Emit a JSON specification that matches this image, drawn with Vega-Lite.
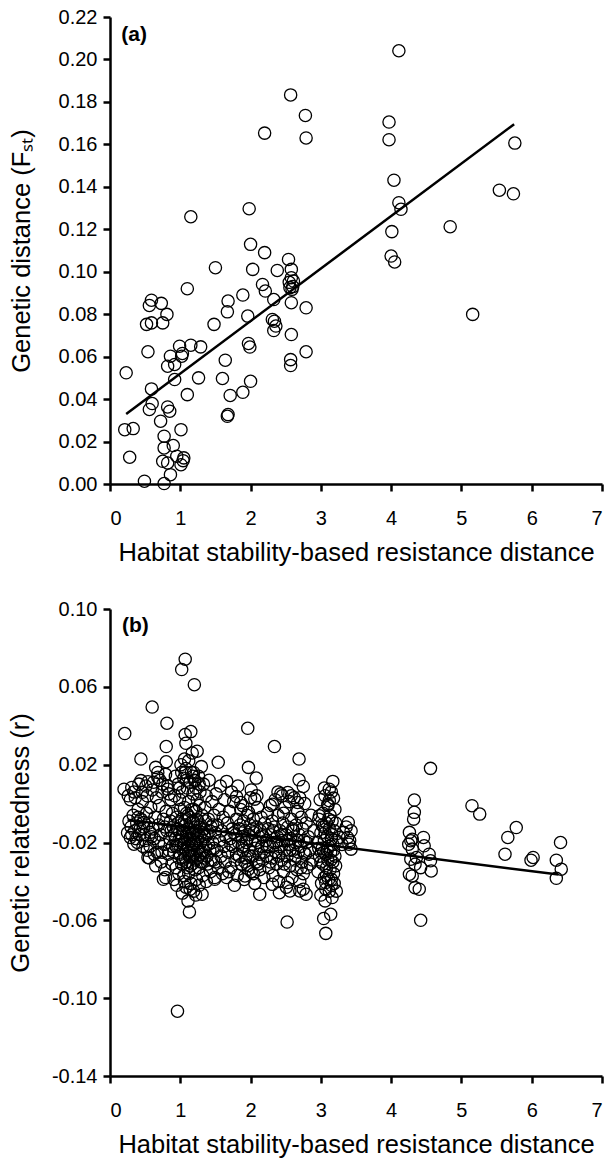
{
  "$schema": "https://vega.github.io/schema/vega-lite/v6.json",
  "background": "white",
  "padding": {"left": 8, "top": 7, "right": 5, "bottom": 5},
  "spacing": 33,
  "config": {
    "font": "Liberation Sans",
    "view": {"stroke": null},
    "axis": {"grid": false, "domainColor": "black", "domainWidth": 2.5, "tickColor": "black", "tickWidth": 2.5, "tickSize": 7, "labelFontSize": 20, "labelColor": "black", "titleFontSize": 25.5, "titleFontWeight": "normal", "titleColor": "black", "labelFont": "Liberation Sans", "titleFont": "Liberation Sans"},
    "axisX": {"labelPadding": 17, "titlePadding": 12},
    "axisY": {"labelPadding": 6}
  },
  "datasets": {
    "a": [
      {"x":0.23,"y":0.0524},{"x":0.21,"y":0.0256},{"x":0.33,"y":0.0261},{"x":0.28,"y":0.0126},{"x":0.49,"y":0.0013},
      {"x":0.59,"y":0.0866},{"x":0.56,"y":0.0841},{"x":0.73,"y":0.0851},{"x":0.81,"y":0.0799},{"x":0.52,"y":0.0752},
      {"x":0.59,"y":0.0759},{"x":0.75,"y":0.0759},{"x":0.54,"y":0.0623},{"x":0.59,"y":0.0448},{"x":0.60,"y":0.0379},
      {"x":0.56,"y":0.0351},{"x":0.82,"y":0.0363},{"x":0.85,"y":0.0343},{"x":0.72,"y":0.0296},{"x":0.77,"y":0.0225},
      {"x":0.77,"y":0.0170},{"x":0.90,"y":0.0181},{"x":0.75,"y":0.0107},{"x":0.82,"y":0.0099},{"x":0.86,"y":0.0044},
      {"x":0.77,"y":0.0002},{"x":0.95,"y":0.0131},{"x":1.05,"y":0.0123},{"x":1.01,"y":0.0091},{"x":1.04,"y":0.0110},
      {"x":1.01,"y":0.0256},{"x":0.82,"y":0.0555},{"x":0.92,"y":0.0563},{"x":0.86,"y":0.0602},{"x":0.92,"y":0.0492},
      {"x":0.99,"y":0.0649},{"x":1.03,"y":0.0615},{"x":1.02,"y":0.0602},{"x":1.15,"y":0.0654},{"x":1.29,"y":0.0646},
      {"x":1.10,"y":0.0421},{"x":1.26,"y":0.0500},{"x":1.10,"y":0.0920},{"x":1.15,"y":0.1259},{"x":1.50,"y":0.1019},
      {"x":1.48,"y":0.0752},{"x":1.60,"y":0.0497},{"x":1.64,"y":0.0583},{"x":1.67,"y":0.0811},{"x":1.68,"y":0.0862},
      {"x":1.71,"y":0.0417},{"x":1.67,"y":0.0319},{"x":1.68,"y":0.0327},{"x":1.89,"y":0.0432},{"x":1.89,"y":0.0890},
      {"x":1.96,"y":0.0791},{"x":1.97,"y":0.0662},{"x":1.99,"y":0.0645},{"x":2.00,"y":0.0484},{"x":2.03,"y":0.1011},
      {"x":2.00,"y":0.1129},{"x":1.98,"y":0.1297},{"x":2.20,"y":0.1090},{"x":2.17,"y":0.0940},{"x":2.21,"y":0.0909},
      {"x":2.33,"y":0.0869},{"x":2.38,"y":0.1006},{"x":2.31,"y":0.0775},{"x":2.34,"y":0.0767},{"x":2.36,"y":0.0744},
      {"x":2.33,"y":0.0723},{"x":2.54,"y":0.1058},{"x":2.58,"y":0.1011},{"x":2.58,"y":0.0972},{"x":2.61,"y":0.0956},
      {"x":2.56,"y":0.0925},{"x":2.59,"y":0.0917},{"x":2.55,"y":0.0950},{"x":2.60,"y":0.0930},{"x":2.58,"y":0.0854},
      {"x":2.58,"y":0.0704},{"x":2.57,"y":0.0586},{"x":2.57,"y":0.0558},{"x":2.79,"y":0.0830},{"x":2.79,"y":0.0623},
      {"x":4.01,"y":0.1189},{"x":4.00,"y":0.1074},{"x":4.05,"y":0.1046},{"x":4.84,"y":0.1212},{"x":5.16,"y":0.0799},
      {"x":4.14,"y":0.1294},{"x":4.11,"y":0.1325},{"x":2.20,"y":0.1653},{"x":2.57,"y":0.1833},{"x":2.78,"y":0.1736},
      {"x":2.79,"y":0.1630},{"x":4.11,"y":0.2041},{"x":3.97,"y":0.1705},{"x":3.97,"y":0.1622},{"x":4.04,"y":0.1431},
      {"x":5.54,"y":0.1384},{"x":5.74,"y":0.1367},{"x":5.76,"y":0.1606}
    ],
    "aline": [{"x":0.23,"y":0.0330},{"x":5.75,"y":0.1695}],
    "bline": [{"x":0.25,"y":-0.0083},{"x":6.38,"y":-0.0365}],
    "b": [
      {"x":0.21,"y":0.036},{"x":0.60,"y":0.0496},{"x":0.81,"y":0.0413},{"x":1.02,"y":0.0689},{"x":1.07,"y":0.0742},
      {"x":1.20,"y":0.0611},{"x":0.80,"y":0.0293},{"x":1.07,"y":0.0355},{"x":1.15,"y":0.037},{"x":1.08,"y":0.031},
      {"x":1.24,"y":0.0269},{"x":1.06,"y":0.0229},{"x":0.80,"y":0.0215},{"x":0.44,"y":0.0229},{"x":0.65,"y":0.0186},
      {"x":1.54,"y":0.0212},{"x":1.96,"y":0.0387},{"x":1.97,"y":0.0186},{"x":2.08,"y":0.0131},{"x":2.34,"y":0.0293},
      {"x":2.69,"y":0.0229},{"x":2.69,"y":0.0122},{"x":2.75,"y":0.0088},{"x":3.17,"y":0.0114},{"x":3.12,"y":0.0074},
      {"x":3.18,"y":0.0028},{"x":4.56,"y":0.0181},{"x":4.33,"y":0.0018},{"x":1.66,"y":0.0114},{"x":1.80,"y":0.0036},
      {"x":0.20,"y":0.0074},{"x":0.31,"y":0.0083},{"x":0.44,"y":0.0118},{"x":0.54,"y":0.0112},{"x":0.68,"y":0.0135},
      {"x":1.07,"y":0.016},{"x":1.02,"y":0.016},{"x":1.19,"y":0.016},{"x":1.21,"y":0.0118},{"x":0.82,"y":0.0074},
      {"x":2.31,"y":-0.0003},{"x":2.45,"y":0.004},{"x":2.53,"y":0.0057},{"x":1.86,"y":0.0006},{"x":2.06,"y":0.0023},
      {"x":3.10,"y":-0.0003},{"x":0.46,"y":0.0058},{"x":0.29,"y":-0.0174},{"x":0.34,"y":-0.0209},{"x":0.54,"y":-0.0277},
      {"x":0.40,"y":-0.0071},{"x":0.48,"y":-0.0097},{"x":0.57,"y":-0.0148},{"x":0.76,"y":-0.0389},{"x":0.79,"y":-0.038},
      {"x":1.66,"y":-0.038},{"x":1.49,"y":-0.0389},{"x":1.92,"y":-0.0372},{"x":1.97,"y":-0.0337},{"x":2.31,"y":-0.0415},
      {"x":2.41,"y":-0.0458},{"x":2.53,"y":-0.0406},{"x":2.56,"y":-0.0449},{"x":2.70,"y":-0.0449},{"x":2.79,"y":-0.0466},
      {"x":2.75,"y":-0.044},{"x":2.13,"y":-0.0466},{"x":3.07,"y":-0.0406},{"x":3.15,"y":-0.0389},{"x":1.89,"y":-0.0011},
      {"x":1.97,"y":-0.0045},{"x":2.67,"y":0.0006},{"x":2.98,"y":-0.0063},{"x":3.12,"y":0.0015},
      {"x":3.39,"y":-0.0097},{"x":3.43,"y":-0.014},{"x":3.38,"y":-0.0174},{"x":3.40,"y":-0.0209},{"x":3.43,"y":-0.0234},
      {"x":3.32,"y":-0.0148},{"x":3.26,"y":-0.0174},{"x":3.36,"y":-0.012},{"x":3.41,"y":-0.019},{"x":3.30,"y":-0.021},
      {"x":4.33,"y":-0.0045},{"x":4.32,"y":-0.008},{"x":4.26,"y":-0.0148},{"x":4.28,"y":-0.0191},{"x":4.30,"y":-0.0234},
      {"x":4.28,"y":-0.0286},{"x":4.26,"y":-0.0363},{"x":4.30,"y":-0.0372},{"x":4.34,"y":-0.0432},{"x":4.40,"y":-0.044},
      {"x":4.42,"y":-0.060},{"x":4.46,"y":-0.0174},{"x":4.47,"y":-0.0217},{"x":4.54,"y":-0.026},{"x":4.56,"y":-0.0294},
      {"x":4.57,"y":-0.0346},{"x":4.42,"y":-0.0329},{"x":4.36,"y":-0.0277},{"x":4.30,"y":-0.0183},{"x":4.25,"y":-0.0209},
      {"x":4.34,"y":-0.0312},{"x":5.15,"y":-0.0011},{"x":5.26,"y":-0.0054},{"x":5.62,"y":-0.026},{"x":5.66,"y":-0.0174},
      {"x":5.78,"y":-0.0123},{"x":5.99,"y":-0.0291},{"x":6.02,"y":-0.0277},{"x":6.41,"y":-0.02},{"x":6.35,"y":-0.0291},
      {"x":6.42,"y":-0.0337},{"x":6.35,"y":-0.0384},{"x":0.96,"y":-0.1067},{"x":2.52,"y":-0.0609},{"x":3.04,"y":-0.0591},
      {"x":3.07,"y":-0.0667},{"x":3.14,"y":-0.0569},{"x":3.16,"y":-0.0483},{"x":1.13,"y":-0.0557},{"x":1.11,"y":-0.05},
      {"x":1.31,"y":-0.0466},
      {"x":0.27,"y":-0.009},{"x":0.30,"y":-0.012},{"x":0.33,"y":-0.006},{"x":0.35,"y":-0.014},{"x":0.38,"y":-0.010},
      {"x":0.40,"y":-0.003},{"x":0.42,"y":-0.016},{"x":0.44,"y":-0.008},{"x":0.46,"y":0.001},{"x":0.48,"y":-0.012},
      {"x":0.50,"y":-0.019},{"x":0.52,"y":-0.005},{"x":0.53,"y":0.004},{"x":0.55,"y":-0.010},{"x":0.57,"y":-0.022},
      {"x":0.58,"y":-0.002},{"x":0.60,"y":0.007},{"x":0.61,"y":-0.013},{"x":0.63,"y":-0.018},{"x":0.64,"y":-0.007},
      {"x":0.66,"y":0.003},{"x":0.67,"y":-0.025},{"x":0.69,"y":-0.011},{"x":0.70,"y":-0.001},{"x":0.72,"y":-0.016},
      {"x":0.73,"y":-0.030},{"x":0.74,"y":0.006},{"x":0.76,"y":-0.008},{"x":0.77,"y":-0.021},{"x":0.78,"y":-0.034},
      {"x":0.80,"y":-0.004},{"x":0.81,"y":-0.014},{"x":0.82,"y":0.009},{"x":0.83,"y":-0.026},{"x":0.85,"y":-0.018},
      {"x":0.86,"y":-0.009},{"x":0.87,"y":0.002},{"x":0.88,"y":-0.031},{"x":0.89,"y":-0.022},{"x":0.36,"y":0.003},
      {"x":0.29,"y":0.002},{"x":0.41,"y":0.010},{"x":0.51,"y":0.009},{"x":0.62,"y":0.011},{"x":0.71,"y":0.012},
      {"x":0.79,"y":0.015},{"x":0.84,"y":0.005},{"x":0.47,"y":-0.022},{"x":0.56,"y":-0.028},{"x":0.65,"y":-0.032},
      {"x":0.68,"y":0.016},{"x":0.75,"y":0.010},{"x":0.25,"y":-0.015},{"x":0.39,"y":-0.020},
      {"x":0.90,"y":-0.012},{"x":0.91,"y":-0.025},{"x":0.92,"y":0.004},{"x":0.93,"y":-0.018},{"x":0.94,"y":-0.033},
      {"x":0.95,"y":-0.007},{"x":0.96,"y":-0.021},{"x":0.97,"y":0.010},{"x":0.98,"y":-0.028},{"x":0.99,"y":-0.015},
      {"x":1.00,"y":-0.003},{"x":0.91,"y":-0.039},{"x":0.93,"y":0.014},{"x":0.95,"y":-0.042},{"x":0.97,"y":-0.010},
      {"x":0.99,"y":0.002},{"x":1.01,"y":-0.019},{"x":1.02,"y":-0.031},{"x":1.02,"y":-0.008},{"x":1.03,"y":0.006},
      {"x":1.04,"y":-0.024},{"x":1.04,"y":-0.014},{"x":1.05,"y":-0.037},{"x":1.05,"y":0.013},{"x":1.06,"y":-0.002},
      {"x":1.06,"y":-0.020},{"x":1.07,"y":-0.028},{"x":1.07,"y":-0.011},{"x":1.08,"y":0.018},{"x":1.08,"y":-0.043},
      {"x":1.09,"y":-0.016},{"x":1.09,"y":-0.005},{"x":1.10,"y":-0.033},{"x":1.10,"y":0.008},{"x":1.03,"y":-0.046},
      {"x":1.01,"y":0.020},{"x":1.11,"y":-0.022},{"x":1.11,"y":-0.013},{"x":1.12,"y":0.001},{"x":1.12,"y":-0.036},
      {"x":1.13,"y":-0.027},{"x":1.13,"y":-0.007},{"x":1.14,"y":0.011},{"x":1.14,"y":-0.018},{"x":1.15,"y":-0.041},
      {"x":1.15,"y":-0.024},{"x":1.16,"y":-0.003},{"x":1.16,"y":0.016},{"x":1.17,"y":-0.031},{"x":1.17,"y":-0.015},
      {"x":1.18,"y":-0.009},{"x":1.18,"y":0.005},{"x":1.19,"y":-0.020},{"x":1.19,"y":-0.045},{"x":1.20,"y":-0.026},
      {"x":1.20,"y":0.012},{"x":1.12,"y":0.022},{"x":1.17,"y":0.026},{"x":1.21,"y":-0.012},{"x":1.21,"y":-0.034},
      {"x":1.22,"y":-0.004},{"x":1.22,"y":0.008},{"x":1.23,"y":-0.021},{"x":1.23,"y":-0.039},{"x":1.24,"y":-0.016},
      {"x":1.24,"y":0.002},{"x":1.25,"y":-0.028},{"x":1.25,"y":-0.009},{"x":1.26,"y":0.014},{"x":1.26,"y":-0.023},
      {"x":1.27,"y":-0.042},{"x":1.27,"y":-0.001},{"x":1.28,"y":-0.017},{"x":1.28,"y":0.006},{"x":1.29,"y":-0.030},
      {"x":1.29,"y":-0.011},{"x":1.30,"y":0.019},{"x":1.30,"y":-0.025},{"x":1.31,"y":-0.006},{"x":1.32,"y":-0.037},
      {"x":1.32,"y":-0.019},{"x":1.33,"y":0.010},{"x":1.34,"y":-0.013},{"x":1.34,"y":-0.028},{"x":1.35,"y":-0.002},
      {"x":1.36,"y":-0.022},{"x":1.37,"y":0.004},{"x":1.37,"y":-0.040},{"x":1.38,"y":-0.016},{"x":1.39,"y":-0.031},
      {"x":1.40,"y":-0.008},{"x":1.41,"y":0.012},{"x":1.42,"y":-0.024},{"x":1.43,"y":-0.035},{"x":1.44,"y":-0.012},
      {"x":1.45,"y":0.001},{"x":1.46,"y":-0.020},{"x":1.47,"y":-0.029},{"x":1.48,"y":-0.006},{"x":1.49,"y":-0.038},
      {"x":1.50,"y":-0.015},{"x":1.51,"y":0.005},{"x":1.52,"y":-0.024},{"x":1.53,"y":-0.011},{"x":1.54,"y":-0.033},
      {"x":1.55,"y":-0.003},{"x":1.56,"y":-0.019},{"x":1.57,"y":0.009},{"x":1.58,"y":-0.027},{"x":1.59,"y":-0.014},
      {"x":1.60,"y":-0.036},{"x":1.61,"y":-0.007},{"x":1.62,"y":-0.022},{"x":1.63,"y":0.002},{"x":1.64,"y":-0.030},
      {"x":1.65,"y":-0.017},
      {"x":1.67,"y":-0.010},{"x":1.68,"y":-0.025},{"x":1.70,"y":-0.004},{"x":1.71,"y":-0.018},{"x":1.72,"y":-0.033},
      {"x":1.74,"y":-0.013},{"x":1.75,"y":-0.022},{"x":1.76,"y":0.001},{"x":1.78,"y":-0.029},{"x":1.79,"y":-0.016},
      {"x":1.80,"y":-0.008},{"x":1.81,"y":-0.037},{"x":1.83,"y":-0.020},{"x":1.84,"y":-0.027},{"x":1.85,"y":-0.011},
      {"x":1.86,"y":-0.003},{"x":1.87,"y":-0.031},{"x":1.88,"y":-0.017},{"x":1.89,"y":-0.024},{"x":1.90,"y":-0.009},
      {"x":1.91,"y":-0.039},{"x":1.92,"y":-0.014},{"x":1.93,"y":-0.028},{"x":1.94,"y":-0.020},{"x":1.95,"y":-0.006},
      {"x":1.96,"y":-0.032},{"x":1.97,"y":-0.016},{"x":1.98,"y":-0.024},{"x":1.99,"y":-0.011},{"x":2.00,"y":0.003},
      {"x":2.01,"y":-0.035},{"x":2.02,"y":-0.019},{"x":2.03,"y":-0.027},{"x":2.04,"y":-0.008},{"x":2.05,"y":-0.015},
      {"x":2.06,"y":-0.041},{"x":2.07,"y":-0.023},{"x":2.08,"y":-0.030},{"x":2.09,"y":-0.012},{"x":2.10,"y":-0.002},
      {"x":2.11,"y":-0.020},{"x":2.12,"y":-0.026},{"x":2.13,"y":-0.034},{"x":2.14,"y":-0.014},{"x":2.15,"y":-0.007},
      {"x":2.16,"y":-0.022},{"x":2.17,"y":-0.029},{"x":2.18,"y":-0.017},{"x":2.19,"y":-0.038},{"x":2.20,"y":-0.010},
      {"x":1.73,"y":0.006},{"x":1.82,"y":0.009},{"x":2.01,"y":0.007},{"x":1.77,"y":-0.042},{"x":2.04,"y":-0.036},
      {"x":2.22,"y":-0.019},{"x":2.23,"y":-0.027},{"x":2.24,"y":-0.005},{"x":2.25,"y":-0.013},{"x":2.26,"y":-0.033},
      {"x":2.27,"y":-0.022},{"x":2.28,"y":-0.001},{"x":2.29,"y":-0.016},{"x":2.30,"y":-0.028},{"x":2.31,"y":-0.009},
      {"x":2.32,"y":-0.037},{"x":2.33,"y":-0.020},{"x":2.34,"y":-0.012},{"x":2.35,"y":0.002},{"x":2.36,"y":-0.025},
      {"x":2.37,"y":-0.031},{"x":2.38,"y":-0.017},{"x":2.39,"y":-0.006},{"x":2.40,"y":-0.040},{"x":2.41,"y":-0.022},
      {"x":2.42,"y":-0.014},{"x":2.43,"y":0.005},{"x":2.44,"y":-0.029},{"x":2.45,"y":-0.019},{"x":2.46,"y":-0.010},
      {"x":2.47,"y":-0.035},{"x":2.48,"y":-0.024},{"x":2.49,"y":-0.002},{"x":2.50,"y":-0.016},{"x":2.51,"y":-0.043},
      {"x":2.52,"y":-0.027},{"x":2.53,"y":-0.012},{"x":2.54,"y":-0.021},{"x":2.55,"y":0.001},{"x":2.56,"y":-0.032},
      {"x":2.57,"y":-0.018},{"x":2.58,"y":-0.008},{"x":2.59,"y":-0.038},{"x":2.60,"y":-0.024},{"x":2.61,"y":-0.014},
      {"x":2.62,"y":0.003},{"x":2.63,"y":-0.029},{"x":2.64,"y":-0.020},{"x":2.65,"y":-0.011},{"x":2.66,"y":-0.034},
      {"x":2.67,"y":-0.004},{"x":2.68,"y":-0.025},{"x":2.69,"y":-0.016},{"x":2.70,"y":-0.040},{"x":2.71,"y":-0.022},
      {"x":2.72,"y":-0.007},{"x":2.73,"y":-0.030},{"x":2.74,"y":-0.013},{"x":2.75,"y":-0.036},{"x":2.76,"y":-0.019},
      {"x":2.77,"y":0.000},{"x":2.78,"y":-0.026},{"x":2.79,"y":-0.010},{"x":2.80,"y":-0.033},{"x":2.82,"y":-0.017},
      {"x":2.84,"y":-0.024},{"x":2.86,"y":-0.006},{"x":2.88,"y":-0.029},{"x":2.90,"y":-0.014},
      {"x":2.95,"y":-0.020},{"x":2.96,"y":-0.035},{"x":2.97,"y":-0.008},{"x":2.98,"y":-0.027},{"x":2.99,"y":0.002},
      {"x":3.00,"y":-0.015},{"x":3.01,"y":-0.041},{"x":3.02,"y":-0.023},{"x":3.03,"y":-0.005},{"x":3.03,"y":-0.031},
      {"x":3.04,"y":-0.012},{"x":3.05,"y":-0.038},{"x":3.05,"y":-0.019},{"x":3.06,"y":0.004},{"x":3.07,"y":-0.026},
      {"x":3.07,"y":-0.044},{"x":3.08,"y":-0.010},{"x":3.08,"y":-0.033},{"x":3.09,"y":-0.017},{"x":3.10,"y":-0.001},
      {"x":3.10,"y":-0.029},{"x":3.11,"y":-0.022},{"x":3.11,"y":-0.039},{"x":3.12,"y":-0.013},{"x":3.13,"y":-0.034},
      {"x":3.13,"y":-0.006},{"x":3.14,"y":-0.025},{"x":3.15,"y":-0.018},{"x":3.15,"y":-0.042},{"x":3.16,"y":-0.009},
      {"x":3.17,"y":-0.030},{"x":3.17,"y":-0.021},{"x":3.18,"y":-0.036},{"x":3.19,"y":-0.014},{"x":3.20,"y":-0.027},
      {"x":3.20,"y":-0.003},{"x":3.21,"y":-0.032},{"x":3.22,"y":-0.019},{"x":3.22,"y":-0.045},{"x":3.00,"y":-0.047},
      {"x":3.06,"y":-0.050},{"x":3.12,"y":-0.045},
      {"x":0.92,"y":-0.016},{"x":0.94,"y":-0.022},{"x":0.96,"y":-0.013},{"x":0.98,"y":-0.019},{"x":1.00,"y":-0.026},
      {"x":1.01,"y":-0.011},{"x":1.03,"y":-0.017},{"x":1.04,"y":-0.029},{"x":1.05,"y":-0.021},{"x":1.06,"y":-0.009},
      {"x":1.08,"y":-0.024},{"x":1.09,"y":-0.030},{"x":1.10,"y":-0.018},{"x":1.11,"y":-0.006},{"x":1.12,"y":-0.025},
      {"x":1.13,"y":-0.015},{"x":1.14,"y":-0.032},{"x":1.15,"y":-0.010},{"x":1.16,"y":-0.021},{"x":1.17,"y":-0.027},
      {"x":1.18,"y":-0.016},{"x":1.19,"y":-0.003},{"x":1.20,"y":-0.019},{"x":1.21,"y":-0.029},{"x":1.22,"y":-0.014},
      {"x":1.23,"y":-0.008},{"x":1.24,"y":-0.024},{"x":1.25,"y":-0.018},{"x":1.26,"y":-0.033},{"x":1.27,"y":-0.012},
      {"x":1.28,"y":-0.026},{"x":1.29,"y":-0.020},{"x":1.30,"y":-0.015},{"x":1.31,"y":-0.030},{"x":1.33,"y":-0.024},
      {"x":1.35,"y":-0.017},{"x":1.36,"y":-0.009},{"x":1.38,"y":-0.027},{"x":1.40,"y":-0.021},{"x":1.42,"y":-0.014},
      {"x":1.44,"y":-0.029},{"x":1.46,"y":-0.011},{"x":1.48,"y":-0.023},{"x":1.50,"y":-0.030},{"x":0.98,"y":-0.036},
      {"x":1.06,"y":-0.040},{"x":1.14,"y":-0.044},{"x":1.22,"y":-0.047},{"x":0.99,"y":0.008},{"x":1.09,"y":0.012},
      {"x":1.18,"y":0.014},{"x":1.27,"y":0.010},{"x":0.87,"y":-0.014},{"x":0.84,"y":-0.024},{"x":0.89,"y":-0.005},
      {"x":1.72,"y":-0.021},{"x":1.76,"y":-0.015},{"x":1.80,"y":-0.026},{"x":1.84,"y":-0.013},{"x":1.88,"y":-0.022},
      {"x":1.92,"y":-0.030},{"x":1.95,"y":-0.018},{"x":1.99,"y":-0.027},{"x":2.03,"y":-0.013},{"x":2.07,"y":-0.019},
      {"x":2.11,"y":-0.031},{"x":2.16,"y":-0.016},{"x":2.19,"y":-0.025},{"x":1.69,"y":-0.035},{"x":2.09,"y":0.004},
      {"x":2.24,"y":-0.022},{"x":2.28,"y":-0.030},{"x":2.32,"y":-0.014},{"x":2.36,"y":-0.020},{"x":2.40,"y":-0.027},
      {"x":2.44,"y":-0.016},{"x":2.48,"y":-0.031},{"x":2.52,"y":-0.019},{"x":2.56,"y":-0.024},{"x":2.60,"y":-0.013},
      {"x":2.64,"y":-0.027},{"x":2.68,"y":-0.019},{"x":2.72,"y":-0.033},{"x":2.76,"y":-0.025},{"x":2.80,"y":-0.020},
      {"x":2.85,"y":-0.031},{"x":2.39,"y":0.006},{"x":2.58,"y":0.004},{"x":2.70,"y":0.003},{"x":2.47,"y":-0.005},
      {"x":2.97,"y":-0.023},{"x":3.00,"y":-0.030},{"x":3.02,"y":-0.011},{"x":3.04,"y":-0.025},{"x":3.06,"y":-0.015},
      {"x":3.08,"y":-0.037},{"x":3.09,"y":-0.024},{"x":3.11,"y":-0.008},{"x":3.14,"y":-0.029},{"x":3.16,"y":-0.016},
      {"x":3.18,"y":-0.024},{"x":3.19,"y":-0.041},{"x":3.21,"y":-0.010},{"x":3.05,"y":0.008},{"x":3.15,"y":0.006},
      {"x":0.31,"y":-0.016},{"x":0.37,"y":-0.018},{"x":0.43,"y":-0.013},{"x":0.49,"y":-0.016},{"x":0.53,"y":-0.024},
      {"x":0.59,"y":-0.017},{"x":0.63,"y":-0.026},{"x":0.69,"y":-0.020},{"x":0.74,"y":-0.025},{"x":0.78,"y":-0.012},
      {"x":0.34,"y":0.006},{"x":0.26,"y":0.004}
    ]
  },
  "vconcat": [
    {
      "width": 492,
      "height": 467,
      "layer": [
        {
          "data": {"name": "a"},
          "mark": {"type": "point", "shape": "circle", "filled": false, "stroke": "black", "strokeWidth": 1.3, "size": 150, "opacity": 1},
          "encoding": {
            "x": {"field": "x", "type": "quantitative", "scale": {"domain": [0, 7], "nice": false}, "axis": {"title": "Habitat stability-based resistance distance", "values": [0,1,2,3,4,5,6,7], "format": "d"}},
            "y": {"field": "y", "type": "quantitative", "scale": {"domain": [0, 0.22], "nice": false, "zero": false}, "axis": {"title": "Genetic distance (Fₛₜ)", "values": [0,0.02,0.04,0.06,0.08,0.1,0.12,0.14,0.16,0.18,0.2,0.22], "format": ".2f", "titlePadding": 24}}
          }
        },
        {
          "data": {"name": "aline"},
          "mark": {"type": "line", "color": "black", "strokeWidth": 2.5},
          "encoding": {
            "x": {"field": "x", "type": "quantitative"},
            "y": {"field": "y", "type": "quantitative"}
          }
        },
        {
          "data": {"values": [{"label": "(a)"}]},
          "mark": {"type": "text", "align": "left", "baseline": "middle", "fontWeight": "bold", "fontSize": 21, "color": "black"},
          "encoding": {
            "x": {"datum": 0.16, "type": "quantitative"},
            "y": {"datum": 0.2115, "type": "quantitative"},
            "text": {"field": "label"}
          }
        }
      ]
    },
    {
      "width": 492,
      "height": 467,
      "layer": [
        {
          "data": {"name": "b"},
          "mark": {"type": "point", "shape": "circle", "filled": false, "stroke": "black", "strokeWidth": 1.3, "size": 150, "opacity": 1},
          "encoding": {
            "x": {"field": "x", "type": "quantitative", "scale": {"domain": [0, 7], "nice": false}, "axis": {"title": "Habitat stability-based resistance distance", "values": [0,1,2,3,4,5,6,7], "format": "d"}},
            "y": {"field": "y", "type": "quantitative", "scale": {"domain": [-0.14, 0.1], "nice": false, "zero": false}, "axis": {"title": "Genetic relatedness (r)", "values": [-0.14,-0.1,-0.06,-0.02,0.02,0.06,0.1], "labelExpr": "replace(format(datum.value, '.2f'), '\u2212', '-')", "titlePadding": 18}}
          }
        },
        {
          "data": {"name": "bline"},
          "mark": {"type": "line", "color": "black", "strokeWidth": 2.5},
          "encoding": {
            "x": {"field": "x", "type": "quantitative"},
            "y": {"field": "y", "type": "quantitative"}
          }
        },
        {
          "data": {"values": [{"label": "(b)"}]},
          "mark": {"type": "text", "align": "left", "baseline": "middle", "fontWeight": "bold", "fontSize": 21, "color": "black"},
          "encoding": {
            "x": {"datum": 0.17, "type": "quantitative"},
            "y": {"datum": 0.0913, "type": "quantitative"},
            "text": {"field": "label"}
          }
        }
      ]
    }
  ]
}
